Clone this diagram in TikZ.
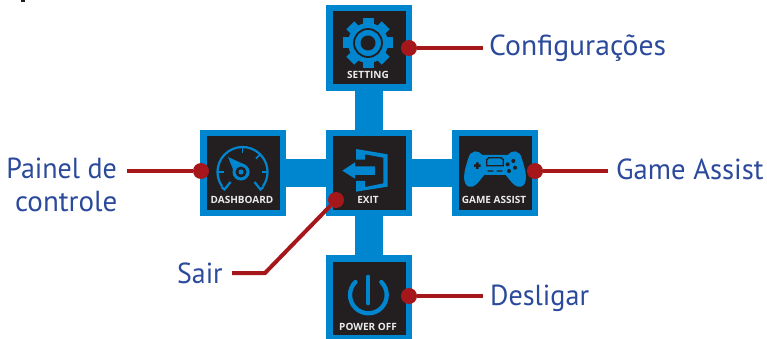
\documentclass[tikz,border=0pt]{standalone}
\usepackage{fontspec}
\setmainfont{PT Sans}
\newfontfamily\capfont{Open Sans}
\definecolor{tileblue}{HTML}{0085CF}
\definecolor{tiledark}{HTML}{231F20}
\definecolor{leadred}{HTML}{A6171C}
\definecolor{labelblue}{HTML}{2B4A9B}
\tikzset{
  tile/.style={rectangle,draw=tileblue,fill=tiledark,line width=6.5pt,minimum size=79.5pt,inner sep=0pt},
  bar/.style={draw=tileblue,line width=28pt},
  lead/.style={draw=leadred,line width=4pt,line join=miter},
  reddot/.style={circle,fill=leadred,minimum size=16pt,inner sep=0pt},
  lab/.style={text=labelblue,font=\fontsize{29}{34}\selectfont,inner sep=0pt,anchor=base west},
  tilecap/.style={text=white!92!black,font=\capfont\bfseries\fontsize{10}{10}\selectfont,inner sep=0pt},
  ico/.style={fill=tileblue,draw=none},
  icol/.style={draw=tileblue,fill=none},
  zf/.style 2 args={shift={(#1,#2)},x=0.33333pt,y=-0.33333pt},
}
\begin{document}
\begin{tikzpicture}[x=1pt,y=-1pt]
\clip (0,0) rectangle (767,339);
\fill[tiledark] (21,0) rectangle (25,2);
% tiles
\node[tile] (top) at (369,48) {};
\node[tile] (left) at (243,173) {};
\node[tile] (mid) at (369,173) {};
\node[tile] (right) at (495,173) {};
\node[tile] (bottom) at (369,298) {};
% cross bars
\draw[bar] (top.south) -- (mid.north);
\draw[bar] (mid.south) -- (bottom.north);
\draw[bar] (left.east) -- (mid.west);
\draw[bar] (mid.east) -- (right.west);
% captions
\node[tilecap] (capSet) at (368,75) {SETTING};
\node[tilecap] (capDash) at (242,200) {DASHBOARD};
\node[tilecap] (capExit) at (368,200) {EXIT};
\node[tilecap] (capGame) at (494,200) {GAME ASSIST};
\node[tilecap] (capPow) at (368,327) {POWER OFF};
% gear icon
\begin{scope}[shift={(368,43)}]
  \foreach \a in {0,45,...,315}
    \fill[ico,rotate=\a] (-5.5,-25) rectangle (5.5,0);
  \fill[ico] (0,0) circle (20);
  \draw[tiledark,line width=1.8pt] (0,0) circle (14);
  \fill[tiledark] (0,0) circle (7.5);
\end{scope}
% dashboard icon
\begin{scope}[shift={(242.5,172)}]
  \draw[icol,line width=2.2pt] (145:25) arc[start angle=145,end angle=395,radius=25];
  \draw[icol,line width=2.2pt] (-21,15) -- (-18,17.5) -- (-12,10);
  \draw[icol,line width=2.2pt] (21,15) -- (18,17.5) -- (12,10);
  \foreach \a in {0,-45,-90,180}
    \draw[icol,line width=1.6pt] (\a:19) -- (\a:25);
  \fill[ico] (-14.5,-15) -- (1,-8) -- (-8,1) -- cycle;
  \fill[ico] (-1.5,0) circle (8.5);
  \fill[tiledark] (-1.5,0) circle (5.5);
  \fill[ico] (-1.5,0) circle (2.5);
\end{scope}
% exit icon
\begin{scope}[zf={320}{125}]
  \fill[ico] (108,72) -- (203,88) -- (203,185) -- (108,200) -- (108,168) -- (135,168) -- (135,186) -- (190,175) -- (190,98) -- (135,88) -- (135,104) -- (108,104) -- cycle;
  \fill[ico] (67,137) -- (105,112) -- (105,124) -- (165,124) -- (165,150) -- (105,150) -- (105,161) -- cycle;
\end{scope}
% game controller icon
\begin{scope}[zf={445}{125}]
  \fill[ico] (112,90) .. controls (100,74) and (76,74) .. (70,100)
    .. controls (62,125) and (48,165) .. (66,182)
    .. controls (88,196) and (104,165) .. (118,150)
    -- (182,150) .. controls (196,165) and (212,196) .. (234,182)
    .. controls (252,165) and (238,125) .. (230,100)
    .. controls (224,74) and (200,74) .. (188,90) -- cycle;
  \draw[tiledark,line width=1.3pt] (125,122) -- (125,104) -- (132,98) -- (168,98) -- (175,104) -- (175,122) -- cycle;
  \fill[tiledark] (93,112) rectangle (101,132) (87,118) rectangle (107,126);
  \fill[tiledark] (128,136) rectangle (145,140) (155,136) rectangle (172,140);
  \foreach \p in {(205,108),(188,118),(210,128),(192,138)} \fill[tiledark] \p circle (6);
\end{scope}
% power icon
\begin{scope}[zf={320}{245}]
  \draw[icol,line width=4.3pt,line cap=round] (184,111) arc[start angle=-45,end angle=225,radius=55];
  \draw[icol,line width=4pt,line cap=round] (145,95) -- (145,175);
\end{scope}
% labels
\node[lab,xscale=1.023] (lblSet) at (489,56) {Configurações};
\node[lab,anchor=base east,xscale=0.965] (lblPainel) at (117,178) {Painel de};
\node[lab,anchor=base east] (lblCtrl) at (117.5,211) {controle};
\node[lab,xscale=0.96] (lblSair) at (177,283) {Sair};
\node[lab,xscale=0.987] (lblGame) at (616,179) {Game Assist};
\node[lab,xscale=0.97] (lblDes) at (490,305) {Desligar};
% lead ends
\coordinate (endSet) at (483,48);
\coordinate (endPainel) at (127,171);
\coordinate (endGame) at (608,171);
\coordinate (endDes) at (483,296);
\coordinate (endSair) at (232,273);
\coordinate (bendSair) at (265,273);
% dots
\node[reddot] (dotSet) at (409,48) {};
\node[reddot] (dotDash) at (201,171) {};
\node[reddot] (dotExit) at (336,200) {};
\node[reddot] (dotGame) at (535,171) {};
\node[reddot] (dotPow) at (409,296) {};
% leaders
\draw[lead] (dotSet) -- (endSet);
\draw[lead] (dotDash) -- (endPainel);
\draw[lead] (dotGame) -- (endGame);
\draw[lead] (dotPow) -- (endDes);
\draw[lead] (dotExit) -- (bendSair) -- (endSair);
\end{tikzpicture}
\end{document}
